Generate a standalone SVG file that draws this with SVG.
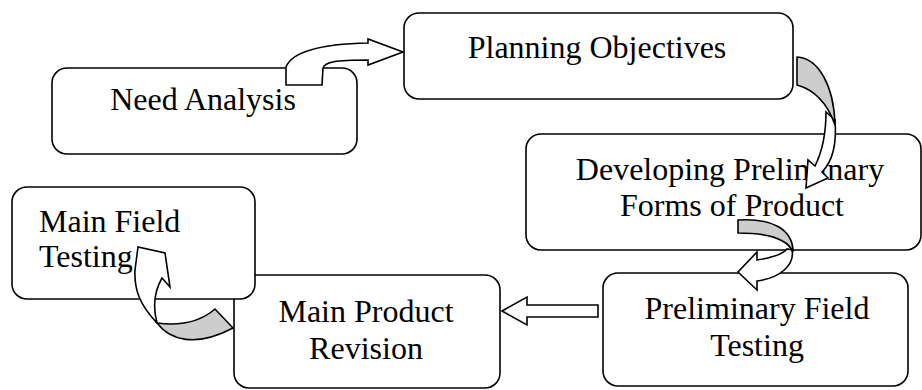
<svg xmlns="http://www.w3.org/2000/svg" width="922" height="390" viewBox="0 0 922 390">
<style>
.box{fill:#fff;stroke:#000;stroke-width:1.6}
.t{font-family:"Liberation Serif","Times New Roman",serif;font-size:32px;fill:#000;text-anchor:middle}
.arr{fill:#fff;stroke:#000;stroke-width:1.6;stroke-linejoin:miter}
.sh{fill:#cdcdcd;stroke:#000;stroke-width:1.6}
</style>
<rect width="922" height="390" fill="#fff"/>
<g id="need-analysis">
<rect class="box" x="52" y="68" width="305" height="86" rx="15"/>
<text class="t" x="203" y="110">Need Analysis</text>
</g>
<g id="planning-objectives">
<rect class="box" x="404" y="13" width="389" height="86" rx="15"/>
<text class="t" x="597" y="58">Planning Objectives</text>
</g>
<g id="developing-preliminary">
<rect class="box" x="526" y="134" width="395" height="116" rx="15"/>
<text class="t" x="730" y="180">Developing Preliminary</text>
<text class="t" x="732" y="216">Forms of Product</text>
</g>
<g id="main-product-revision">
<rect class="box" x="234" y="275" width="266" height="113" rx="15"/>
<text class="t" x="366" y="322">Main Product</text>
<text class="t" x="366" y="359">Revision</text>
</g>
<g id="main-field-testing">
<rect class="box" x="12" y="187" width="243" height="112" rx="15"/>
<text class="t" x="39" y="232" style="text-anchor:start">Main Field</text>
<text class="t" x="39" y="267" style="text-anchor:start">Testing</text>
</g>
<g id="preliminary-field-testing">
<rect class="box" x="603" y="273" width="305" height="113" rx="15"/>
<text class="t" x="757" y="319">Preliminary Field</text>
<text class="t" x="757" y="356">Testing</text>
</g>
<g id="connectors">
<path class="arr" d="M286,85 L286,67 C292,52 320,44 368,43 L368,39 L403,52 L368,65 L368,60 C335,60 325,62 323,68 L322,85 Z"/>
<path class="arr" d="M835,120 C837,145 832,162 822,172 L828,178 L806,188 L808,160 L815,166 C822,152 826,135 826,112 Z"/>
<path class="sh" d="M797,57 C818,58 834,85 835,125 C828,105 815,90 797,85 Z"/>
<path class="arr" d="M792,250 C795,265 780,278 757,281 L757,290 L738,272 L757,252 L757,260 C770,258 782,255 787,249 Z"/>
<path class="sh" d="M738,220 C770,218 793,228 793,252 C788,240 770,233 738,233 Z"/>
<path class="arr" d="M598,305 L527,305 L527,297 L502,311 L527,325 L527,317 L598,317 Z"/>
<path class="arr" d="M157,323 C140,305 134,290 135,270 L138,247 L165,253 L170,287 L162,278 C154,292 153,308 157,323 Z"/>
<path class="sh" d="M215,309 C200,322 180,326 157,323 C170,340 195,348 233,328 Z"/>
</g>
</svg>
